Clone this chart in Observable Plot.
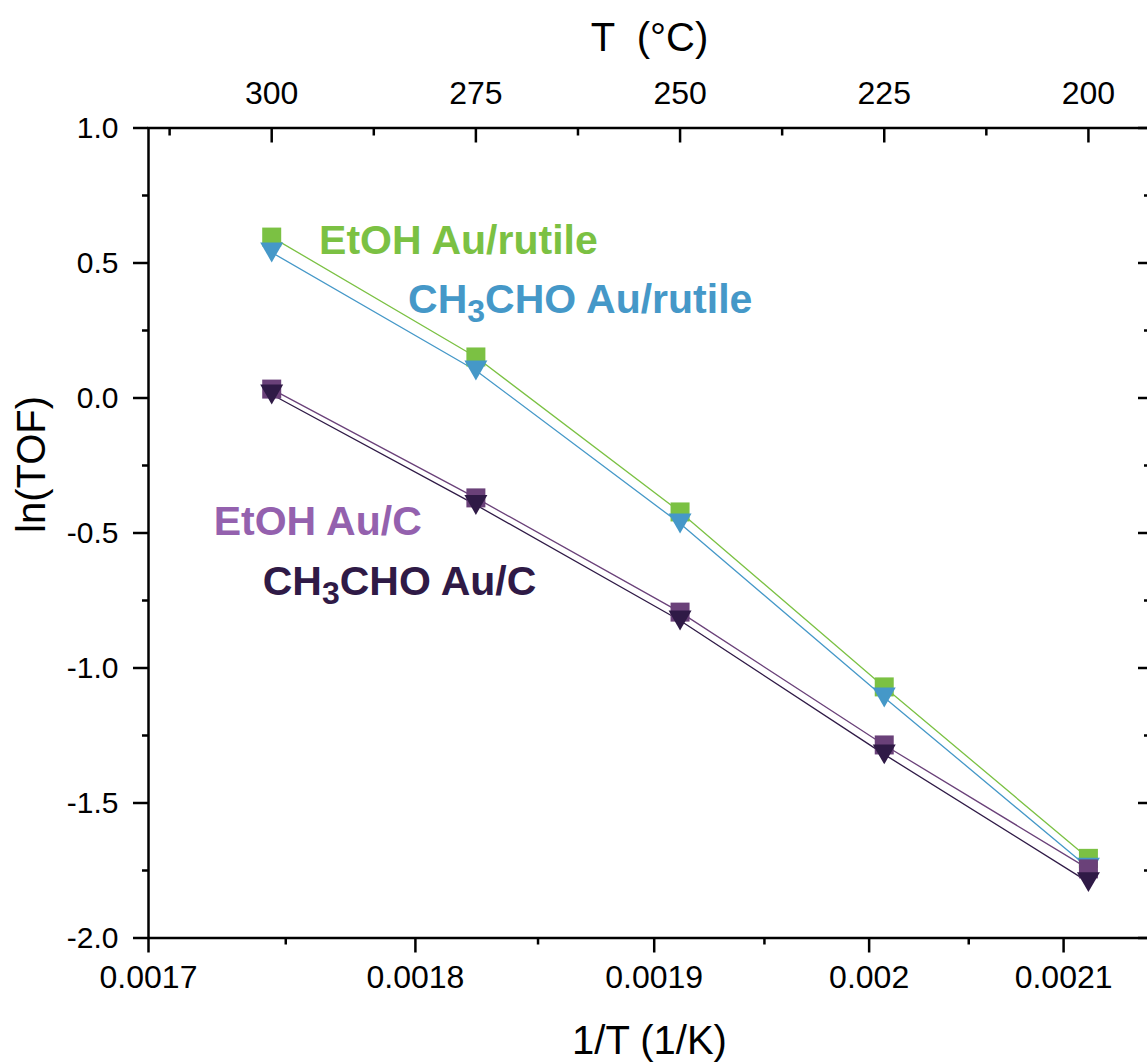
<!DOCTYPE html>
<html>
<head>
<meta charset="utf-8">
<script src="https://cdn.jsdelivr.net/npm/d3@7"></script>
<script src="https://cdn.jsdelivr.net/npm/@observablehq/plot@0.6"></script>
<style>
html, body { margin: 0; padding: 0; background: #fff; overflow: hidden; width: 1147px; height: 1062px; }
#chart svg { max-width: none !important; }
</style>
</head>
<body>
<div id="chart"></div>
<script>
// ---- data ----
const temperatureC = [300, 275, 250, 225, 200];
const etohRutile   = [0.596, 0.152, -0.422, -1.070, -1.705];
const acetRutile   = [0.539, 0.102, -0.465, -1.109, -1.740];
const etohC        = [0.033, -0.370, -0.793, -1.285, -1.744];
const acetC        = [0.013, -0.396, -0.824, -1.320, -1.793];

const seriesNames  = ["EtOH Au/rutile", "CH3CHO Au/rutile", "EtOH Au/C", "CH3CHO Au/C"];
const seriesValues = [etohRutile, acetRutile, etohC, acetC];
const seriesColors = ["#7bc143", "#4598c8", "#6a4179", "#2f1a46"];
const labelColors  = ["#7bc143", "#4598c8", "#9461ae", "#2f1a46"];
const seriesSymbol = ["square", "triangleDown", "square", "triangleDown"];

// label anchor positions in data units (T in °C, ln(TOF))
const labelT     = [294.2, 283.3, 307.1, 301.1];
const labelLnTOF = [0.583, 0.365, -0.459, -0.681];

// ticks
const invTTicks      = [0.0017, 0.0018, 0.0019, 0.002, 0.0021];
const invTMinorTicks = [0.00175, 0.00185, 0.00195, 0.00205];
const tempTicks      = [300, 275, 250, 225, 200];
const tempMinorTicks = [312.5, 287.5, 262.5, 237.5, 212.5];
const lnTicks        = [1, 0.5, 0, -0.5, -1, -1.5, -2];
const lnMinorTicks   = [0.75, 0.25, -0.25, -0.75, -1.25, -1.75];
const invTDomain     = [0.0017, 0.002148];
const lnDomain       = [-2, 1];

// ---- helpers ----
const toC = v => 1 / v - 273.15;
const fmtInv = d => String(+(1 / (d + 273.15)).toPrecision(2));

const symbols = {
  square: { draw(ctx, size) { const r = Math.sqrt(size / Math.PI); ctx.rect(-r, -r, 2 * r, 2 * r); } },
  triangleDown: { draw(ctx, size) {
    const r = Math.sqrt(size / Math.PI); const h = r * Math.sqrt(3);
    ctx.moveTo(-r, -h / 2); ctx.lineTo(r, -h / 2); ctx.lineTo(0, h / 2); ctx.closePath();
  } }
};
const symbolR = { square: 9.5, triangleDown: 11.5 };

const rowsFor = i => temperatureC.map((t, j) => ({ T: t, v: seriesValues[i][j] }));

const W = 1160, H = 1062, mL = 148, mR = 10, mT = 127.5, mB = 124.5;
const plotW = W - mL - mR, plotH = H - mT - mB;

const marks = [];
seriesNames.forEach((name, i) => {
  marks.push(Plot.line(rowsFor(i), { x: "T", y: "v", stroke: seriesColors[i], strokeWidth: 1.3 }));
});
seriesNames.forEach((name, i) => {
  const s = seriesSymbol[i];
  marks.push(Plot.dot(rowsFor(i), { x: "T", y: "v", symbol: symbols[s], r: symbolR[s], fill: seriesColors[i], stroke: "none" }));
});
seriesNames.forEach((name, i) => {
  marks.push(Plot.text([name], {
    x: () => labelT[i], y: () => labelLnTOF[i], text: d => d,
    fill: labelColors[i], fontSize: 41, fontWeight: "bold", textAnchor: "start", lineAnchor: "middle"
  }));
});

marks.push(
  Plot.axisX({ anchor: "bottom", ticks: invTTicks.map(toC), tickFormat: fmtInv, tickSize: 15, tickPadding: 12,
               fontSize: 32, strokeWidth: 2.5, label: null, color: "black" }),
  Plot.tickX(invTMinorTicks.map(toC), { x: d => d, insetTop: plotH, insetBottom: -7, strokeWidth: 2.5 }),
  Plot.axisX({ anchor: "top", ticks: tempTicks, tickFormat: d => String(d), tickSize: 0, tickPadding: 24,
               fontSize: 32, label: null, color: "black" }),
  Plot.tickX(tempTicks, { x: d => d, insetBottom: plotH - 15, strokeWidth: 2.5 }),
  Plot.tickX(tempMinorTicks, { x: d => d, insetBottom: plotH - 8, strokeWidth: 2.5 }),
  Plot.axisY({ anchor: "left", ticks: lnTicks, tickFormat: d => d.toFixed(1), tickSize: 15, tickPadding: 15,
               fontSize: 30, strokeWidth: 2.5, label: null, color: "black" }),
  Plot.tickY(lnMinorTicks, { y: d => d, insetRight: plotW, insetLeft: -6, strokeWidth: 2.5 }),
  Plot.tickY(lnTicks, { y: d => d, insetLeft: plotW - 12, strokeWidth: 2.5 }),
  Plot.tickY(lnMinorTicks, { y: d => d, insetLeft: plotW - 6, strokeWidth: 2.5 }),
  Plot.frame({ stroke: "black", strokeWidth: 2.5 }),
  Plot.text(["1/T (1/K)"], { frameAnchor: "bottom", dy: 103, fontSize: 40, lineAnchor: "middle" }),
  Plot.text(["T  (°C)"], { frameAnchor: "top", dy: -90, fontSize: 40, lineAnchor: "middle" }),
  Plot.text(["ln(TOF)"], { frameAnchor: "left", dx: -116, rotate: -90, fontSize: 40, lineAnchor: "middle" })
);

const chart = Plot.plot({
  width: W, height: H,
  marginLeft: mL, marginRight: mR, marginTop: mT, marginBottom: mB,
  x: { type: "linear", domain: invTDomain.map(toC) },
  y: { type: "linear", domain: lnDomain },
  style: { fontFamily: "'Liberation Sans', Arial, sans-serif", background: "white", color: "black", maxWidth: "none" },
  marks
});

d3.select(chart).selectAll("text").each(function () {
  const t = this.textContent;
  if (t.startsWith("CH3CHO")) {
    const sel = d3.select(this);
    sel.text(null);
    sel.append("tspan").text("CH");
    sel.append("tspan").attr("dy", 9).attr("font-size", "0.78em").text("3");
    sel.append("tspan").attr("dy", -9).text(t.slice(3));
  }
});

document.getElementById("chart").appendChild(chart);
</script>
</body>
</html>
